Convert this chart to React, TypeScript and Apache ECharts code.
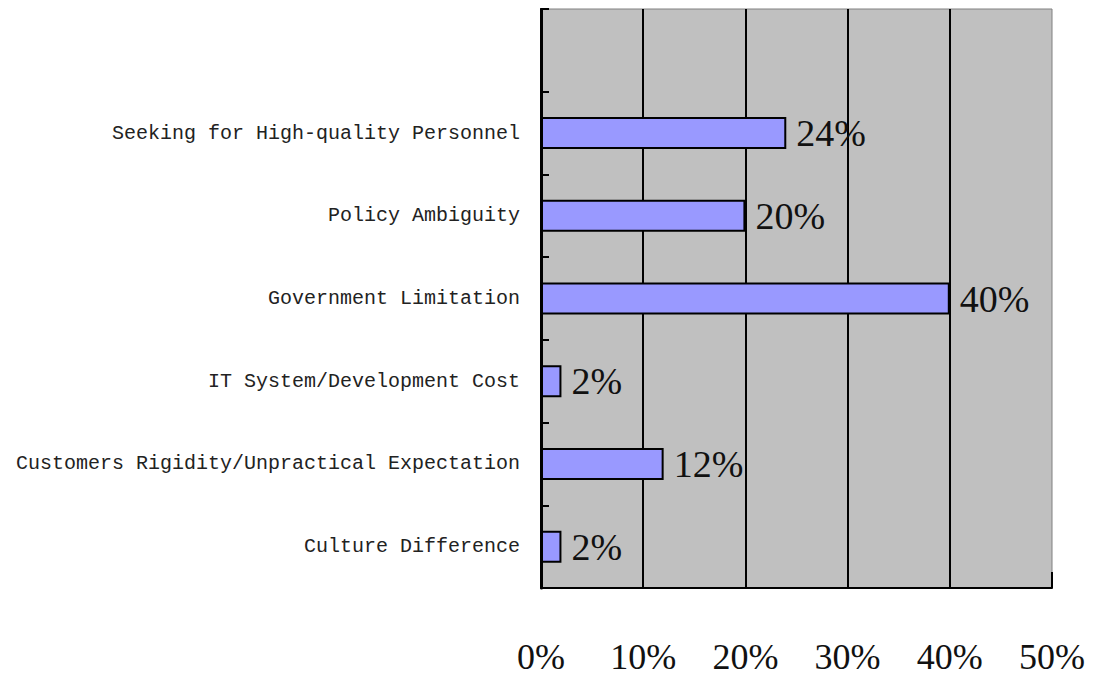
import React, { useEffect, useRef } from "react";
import * as echarts from "echarts";

const categories = [
  "Culture Difference",
  "Customers Rigidity/Unpractical Expectation",
  "IT System/Development Cost",
  "Government Limitation",
  "Policy Ambiguity",
  "Seeking for High-quality Personnel",
  "",
];
const values: (number | null)[] = [2, 12, 2, 40, 20, 24, null];
const xMin = 0;
const xMax = 50;
const xInterval = 10;

export default function App() {
  const ref = useRef<HTMLDivElement>(null);
  useEffect(() => {
    if (!ref.current) return;
    const chart = echarts.init(ref.current, undefined, { renderer: "svg" });
    chart.setOption({
      animation: false,
      backgroundColor: "#ffffff",
      grid: {
        left: 541,
        right: 46,
        top: 9,
        bottom: 91,
        show: true,
        backgroundColor: "#C0C0C0",
        borderColor: "#808080",
        borderWidth: 1,
      },
      xAxis: {
        type: "value",
        min: xMin,
        max: xMax,
        interval: xInterval,
        axisLine: { show: true, lineStyle: { color: "#000", width: 2 } },
        axisTick: { show: true, inside: true, length: 16, lineStyle: { color: "#000", width: 2 } },
        splitLine: { show: true, showMinLine: false, showMaxLine: false, lineStyle: { color: "#000", width: 2 } },
        axisLabel: {
          formatter: "{value}%",
          fontFamily: "'Liberation Serif', serif",
          fontSize: 36,
          color: "#111",
          margin: 51,
        },
      },
      yAxis: {
        type: "category",
        data: categories,
        axisLine: { show: true, lineStyle: { color: "#000", width: 3 } },
        axisTick: { show: true, inside: true, length: 8, lineStyle: { color: "#000", width: 2 } },
        splitLine: { show: false },
        axisLabel: {
          fontFamily: "'Liberation Mono', monospace",
          fontSize: 20,
          color: "#222",
          margin: 21,
        },
      },
      series: [
        {
          type: "bar",
          data: values,
          barWidth: 32,
          itemStyle: { color: "#9999FF", borderColor: "#000", borderWidth: 2 },
          label: {
            show: true,
            position: "right",
            distance: 10,
            formatter: "{c}%",
            fontFamily: "'Liberation Serif', serif",
            fontSize: 38,
            color: "#111",
          },
        },
      ],
    });
    return () => chart.dispose();
  }, []);
  return <div ref={ref} style={{ width: 1098, height: 679, margin: -8 }} />;
}
